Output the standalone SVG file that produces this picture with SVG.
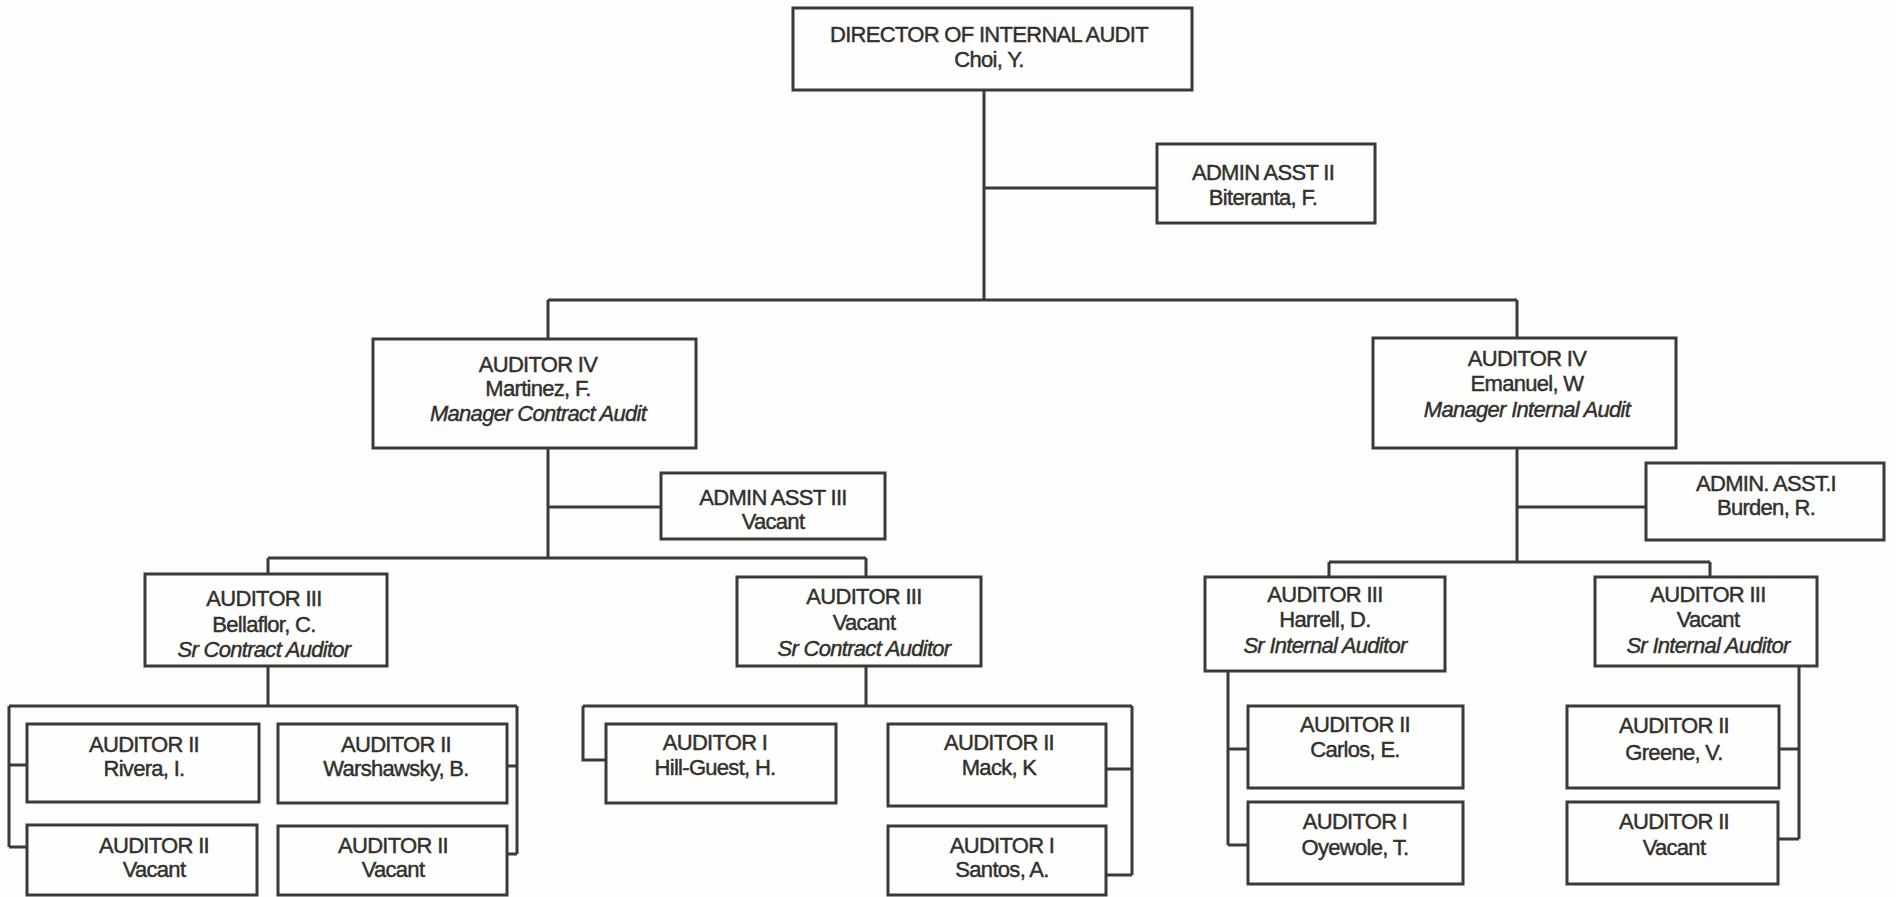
<svg xmlns="http://www.w3.org/2000/svg" width="1896" height="897" viewBox="0 0 1896 897">
<style>
.bg{fill:#fdfdfc}
.box{fill:#fefefe;stroke:#3d3934;stroke-width:3}
.ln{fill:none;stroke:#3d3934;stroke-width:3}
text{font-family:"Liberation Sans",Arial,Helvetica,sans-serif;font-size:22px;letter-spacing:-0.7px;fill:#33302c;stroke:#33302c;stroke-width:0.45px;text-anchor:middle}
.i{font-style:italic}
</style>
<rect class="bg" x="0" y="0" width="1896" height="897"/>
<g id="connectors">
<path class="ln" d="M984 90V300M984 188H1157M548 300H1517M548 300V339M1517 300V338"/>
<path class="ln" d="M548 448V558M548 507H661M268 558H866M268 558V574M866 558V577"/>
<path class="ln" d="M268 666V706M9 706H517M9 706V847M9 765H27M9 847H27M517 706V854M507 766H517M507 854H517"/>
<path class="ln" d="M866 666V706M583 706H1132M583 706V760H606M1132 706V875M1106 769H1132M1106 875H1132"/>
<path class="ln" d="M1517 448V562M1517 507H1646M1329 562H1710M1329 562V577M1710 562V577"/>
<path class="ln" d="M1228 671V845M1228 749H1248M1228 845H1248"/>
<path class="ln" d="M1799 666V839M1779 749H1799M1778 839H1799"/>
</g>
<g id="director"><rect class="box" x="793" y="8" width="399" height="82"/><text x="989" y="42">DIRECTOR OF INTERNAL AUDIT</text><text x="989" y="67">Choi, Y.</text></g>
<g id="admin2"><rect class="box" x="1157" y="144" width="218" height="79"/><text x="1263" y="180">ADMIN ASST II</text><text x="1263" y="205">Biteranta, F.</text></g>
<g id="martinez"><rect class="box" x="373" y="339" width="323" height="109"/><text x="538" y="372">AUDITOR IV</text><text x="538" y="396">Martinez, F.</text><text class="i" x="538" y="421">Manager Contract Audit</text></g>
<g id="admin3"><rect class="box" x="661" y="473" width="224" height="66"/><text x="773" y="505">ADMIN ASST III</text><text x="773" y="529">Vacant</text></g>
<g id="emanuel"><rect class="box" x="1373" y="338" width="303" height="110"/><text x="1527" y="366">AUDITOR IV</text><text x="1527" y="391">Emanuel, W</text><text class="i" x="1527" y="417">Manager Internal Audit</text></g>
<g id="admin1"><rect class="box" x="1646" y="463" width="238" height="77"/><text x="1766" y="491">ADMIN. ASST.I</text><text x="1766" y="515">Burden, R.</text></g>
<g id="bellaflor"><rect class="box" x="145" y="574" width="242" height="92"/><text x="264" y="606">AUDITOR III</text><text x="264" y="632">Bellaflor, C.</text><text class="i" x="264" y="657">Sr Contract Auditor</text></g>
<g id="vacant-contract"><rect class="box" x="737" y="577" width="244" height="89"/><text x="864" y="604">AUDITOR III</text><text x="864" y="630">Vacant</text><text class="i" x="864" y="656">Sr Contract Auditor</text></g>
<g id="harrell"><rect class="box" x="1205" y="577" width="240" height="94"/><text x="1325" y="602">AUDITOR III</text><text x="1325" y="627">Harrell, D.</text><text class="i" x="1325" y="653">Sr Internal Auditor</text></g>
<g id="vacant-internal"><rect class="box" x="1595" y="577" width="222" height="89"/><text x="1708" y="602">AUDITOR III</text><text x="1708" y="627">Vacant</text><text class="i" x="1708" y="653">Sr Internal Auditor</text></g>
<g id="rivera"><rect class="box" x="27" y="724" width="232" height="78"/><text x="144" y="752">AUDITOR II</text><text x="144" y="776">Rivera, I.</text></g>
<g id="warshawsky"><rect class="box" x="278" y="724" width="229" height="79"/><text x="396" y="752">AUDITOR II</text><text x="396" y="776">Warshawsky, B.</text></g>
<g id="vacant-a2-1"><rect class="box" x="27" y="825" width="230" height="70"/><text x="154" y="853">AUDITOR II</text><text x="154" y="877">Vacant</text></g>
<g id="vacant-a2-2"><rect class="box" x="278" y="826" width="229" height="69"/><text x="393" y="853">AUDITOR II</text><text x="393" y="877">Vacant</text></g>
<g id="hillguest"><rect class="box" x="606" y="724" width="230" height="79"/><text x="715" y="750">AUDITOR I</text><text x="715" y="775">Hill-Guest, H.</text></g>
<g id="mack"><rect class="box" x="888" y="724" width="218" height="82"/><text x="999" y="750">AUDITOR II</text><text x="999" y="775">Mack, K</text></g>
<g id="santos"><rect class="box" x="888" y="826" width="218" height="69"/><text x="1002" y="853">AUDITOR I</text><text x="1002" y="877">Santos, A.</text></g>
<g id="carlos"><rect class="box" x="1248" y="706" width="215" height="82"/><text x="1355" y="732">AUDITOR II</text><text x="1355" y="757">Carlos, E.</text></g>
<g id="oyewole"><rect class="box" x="1248" y="802" width="215" height="82"/><text x="1355" y="829">AUDITOR I</text><text x="1355" y="855">Oyewole, T.</text></g>
<g id="greene"><rect class="box" x="1567" y="706" width="212" height="82"/><text x="1674" y="733">AUDITOR II</text><text x="1674" y="760">Greene, V.</text></g>
<g id="vacant-a2-3"><rect class="box" x="1567" y="802" width="211" height="82"/><text x="1674" y="829">AUDITOR II</text><text x="1674" y="855">Vacant</text></g>
</svg>
